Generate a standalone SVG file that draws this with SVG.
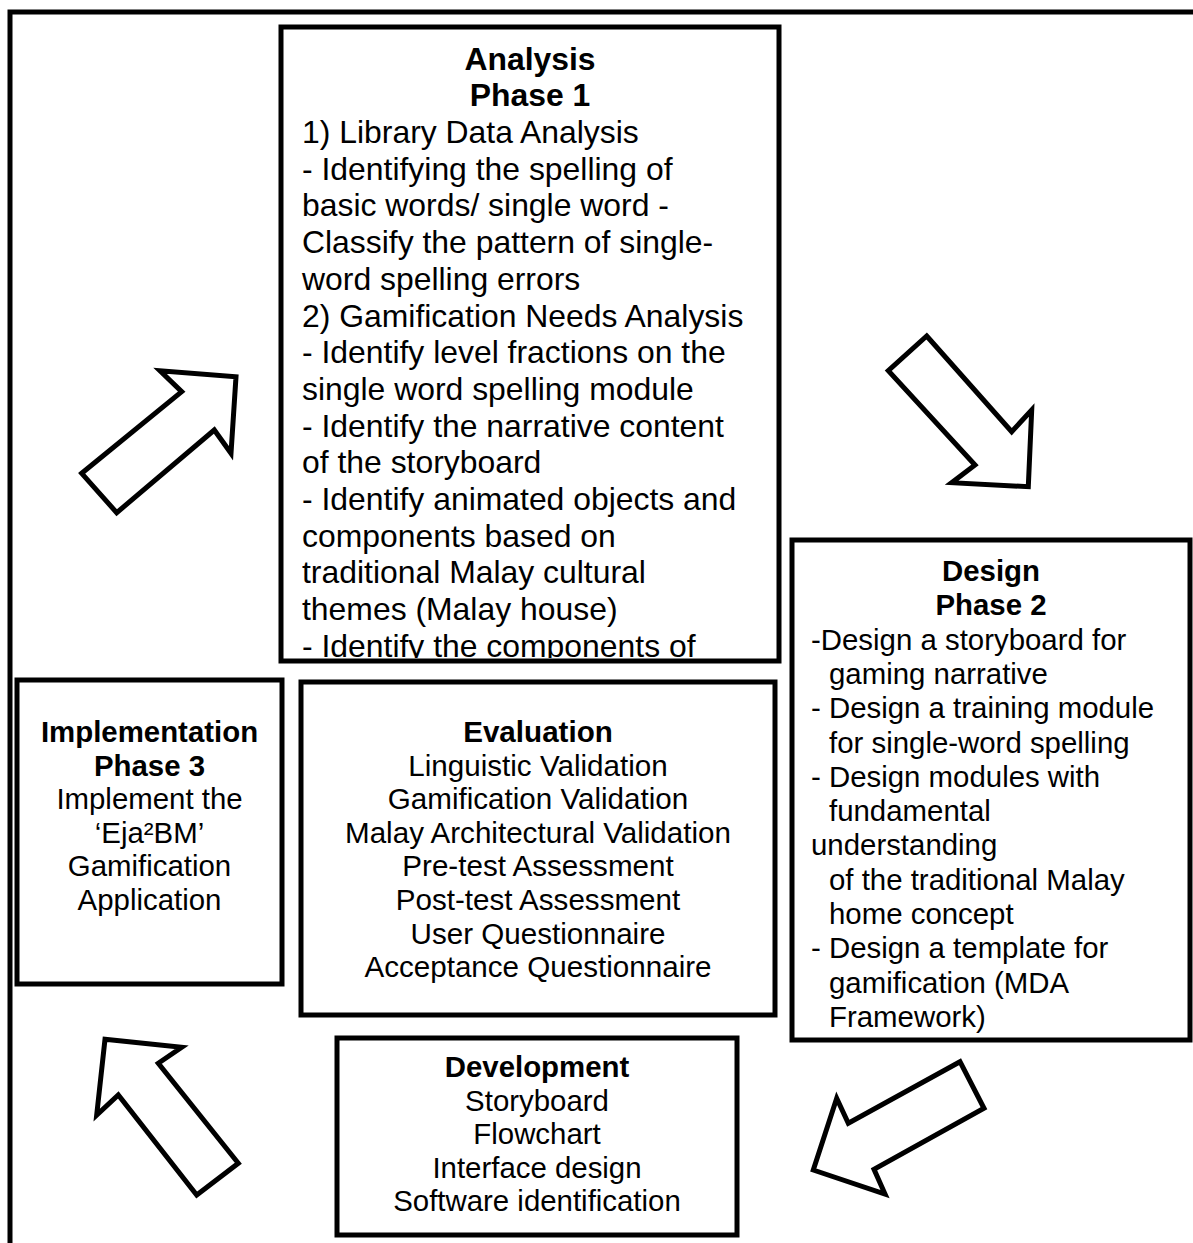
<svg xmlns="http://www.w3.org/2000/svg" width="1193" height="1243" viewBox="0 0 1193 1243">
<style>
.box{fill:#fff;stroke:#000;stroke-width:5}
.arr{fill:#fff;stroke:#000;stroke-width:5;stroke-linejoin:miter;stroke-miterlimit:10}
text{font-family:"Liberation Sans",Arial,sans-serif;fill:#000}
.a{font-size:31.9px}
.t{font-size:29.4px}
.e{font-size:29.6px}
.b{font-weight:bold}
.c{text-anchor:middle}
</style>
<defs>
<clipPath id="clipA"><rect x="284" y="30" width="492" height="628"/></clipPath>
</defs>
<rect width="1193" height="1243" fill="#fff"/>
<path d="M10,1243 V12 H1193" fill="none" stroke="#000" stroke-width="5"/>

<g id="analysis">
<rect class="box" x="281" y="27" width="498" height="634"/>
<g clip-path="url(#clipA)" class="a">
<text class="b c" x="530" y="69.5">Analysis</text>
<text class="b c" x="530" y="106.2">Phase 1</text>
<text x="302" y="143">1) Library Data Analysis</text>
<text x="302" y="179.7">- Identifying the spelling of</text>
<text x="302" y="216.4">basic words/ single word -</text>
<text x="302" y="253.1">Classify the pattern of single-</text>
<text x="302" y="289.8">word spelling errors</text>
<text x="302" y="326.5">2) Gamification Needs Analysis</text>
<text x="302" y="363.2">- Identify level fractions on the</text>
<text x="302" y="399.9">single word spelling module</text>
<text x="302" y="436.6">- Identify the narrative content</text>
<text x="302" y="473.3">of the storyboard</text>
<text x="302" y="510">- Identify animated objects and</text>
<text x="302" y="546.7">components based on</text>
<text x="302" y="583.4">traditional Malay cultural</text>
<text x="302" y="620.1">themes (Malay house)</text>
<text x="302" y="656.8">- Identify the components of</text>
</g>
</g>

<g id="design" class="t">
<rect class="box" x="792" y="540" width="398" height="500"/>
<text class="b c" x="991" y="581">Design</text>
<text class="b c" x="991" y="615.3">Phase 2</text>
<text x="811" y="649.6">-Design a storyboard for</text>
<text x="829" y="683.9">gaming narrative</text>
<text x="811" y="718.2">- Design a training module</text>
<text x="829" y="752.5">for single-word spelling</text>
<text x="811" y="786.8">- Design modules with</text>
<text x="829" y="821.1">fundamental</text>
<text x="811" y="855.4">understanding</text>
<text x="829" y="889.7">of the traditional Malay</text>
<text x="829" y="924">home concept</text>
<text x="811" y="958.3">- Design a template for</text>
<text x="829" y="992.6">gamification (MDA</text>
<text x="829" y="1026.9">Framework)</text>
</g>

<g id="implementation" class="t">
<rect class="box" x="17" y="680" width="265" height="304"/>
<text class="b c" x="149.5" y="742">Implementation</text>
<text class="b c" x="149.5" y="775.6">Phase 3</text>
<text class="c" x="149.5" y="809.2">Implement the</text>
<text class="c" x="149.5" y="842.8">‘Eja²BM’</text>
<text class="c" x="149.5" y="876.4">Gamification</text>
<text class="c" x="149.5" y="910">Application</text>
</g>

<g id="evaluation" class="e">
<rect class="box" x="301" y="682" width="474" height="333"/>
<text class="b c" x="538" y="742">Evaluation</text>
<text class="c" x="538" y="775.6">Linguistic Validation</text>
<text class="c" x="538" y="809.2">Gamification Validation</text>
<text class="c" x="538" y="842.8">Malay Architectural Validation</text>
<text class="c" x="538" y="876.4">Pre-test Assessment</text>
<text class="c" x="538" y="910">Post-test Assessment</text>
<text class="c" x="538" y="943.6">User Questionnaire</text>
<text class="c" x="538" y="977.2">Acceptance Questionnaire</text>
</g>

<g id="development" class="t">
<rect class="box" x="337" y="1038" width="400" height="197"/>
<text class="b c" x="537" y="1077">Development</text>
<text class="c" x="537" y="1110.6">Storyboard</text>
<text class="c" x="537" y="1144.2">Flowchart</text>
<text class="c" x="537" y="1177.8">Interface design</text>
<text class="c" x="537" y="1211.4">Software identification</text>
</g>

<g id="connectors">
<polygon class="arr" points="81.7,473.3 181.7,391.7 160,370.7 236,376.7 231,453.3 214.3,430 116.7,512.7"/>
<polygon class="arr" points="926.7,336 1011.7,431.7 1031.7,410 1028.3,486.7 951.7,482.7 975,465 888.3,370.7"/>
<polygon class="arr" points="960,1061.7 984,1108.3 874,1169.3 885,1194 813.3,1170 836.7,1098.3 848.3,1123.3"/>
<polygon class="arr" points="105,1039.3 181.7,1047.3 158.3,1063.3 238.3,1163.3 196.7,1195 118.3,1095 96.7,1115"/>
</g>
</svg>
